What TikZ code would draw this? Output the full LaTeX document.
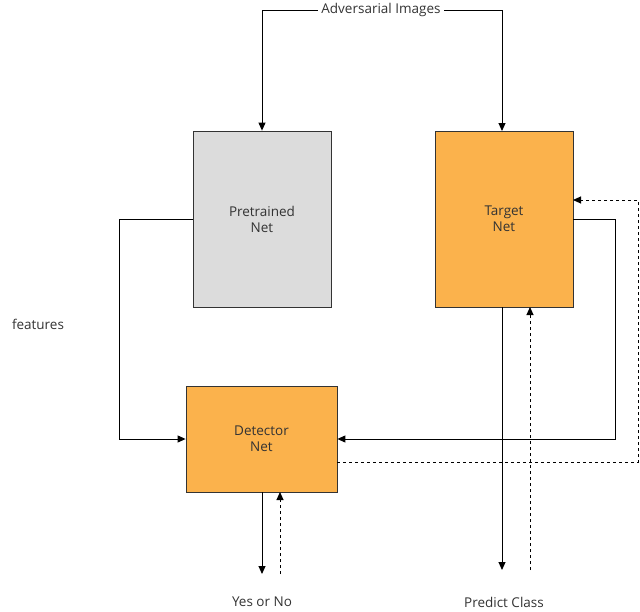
\documentclass[tikz,border=0pt]{standalone}
\usepackage{fontspec}
\setmainfont{Open Sans}
\usetikzlibrary{arrows.meta}
\definecolor{org}{HTML}{FBB24C}
\definecolor{gry}{HTML}{DCDCDC}
\definecolor{txt}{HTML}{333333}
\begin{document}
\begin{tikzpicture}[x=1pt,y=-1pt,
  box/.style={draw=black!80,line width=0.8pt,text=txt,align=center,font=\fontsize{13.5}{16}\selectfont},
  lbl/.style={text=txt,font=\fontsize{13.5}{16}\selectfont},
  con/.style={line width=1pt,-{Triangle[length=8pt,width=7pt]}},
  dcon/.style={con,dashed}]
\useasboundingbox (0,0) rectangle (640,611);
\node[box,fill=gry,minimum width=138pt,minimum height=176pt] (pre) at (262,219) {Pretrained\\Net};
\node[box,fill=org,minimum width=138pt,minimum height=176pt] (tgt) at (504,219) {Target\\Net};
\node[box,fill=org,minimum width=151pt,minimum height=106pt] (det) at (261.5,439) {Detector\\Net};
\node[lbl] (adv) at (381,10) {Adversarial Images};
\node[lbl] (feat) at (38,324) {features};
\node[lbl] (yes) at (262,602) {Yes or No};
\node[lbl] (pc) at (504,602) {Predict Class};
\coordinate (yesT) at (262,574);
\coordinate (yesD) at (280,574);
\coordinate (pcT) at (502,570);
\coordinate (pcD) at (530,570);
\draw[con] (adv.west) -| (pre.north);
\draw[con] (adv.east) -| (502,131);
\draw[con] (pre.west) -- (119,219) |- (det.west);
\draw[con] (tgt.east) -- (615,219) |- (det.east);
\draw[dcon] (337,462) -- (638,462) |- (573,200);
\draw[con] (502,307) -- (pcT);
\draw[dcon] (pcD) -- (530,307);
\draw[con] (262,492) -- (yesT);
\draw[dcon] (yesD) -- (280,492);
\end{tikzpicture}
\end{document}
